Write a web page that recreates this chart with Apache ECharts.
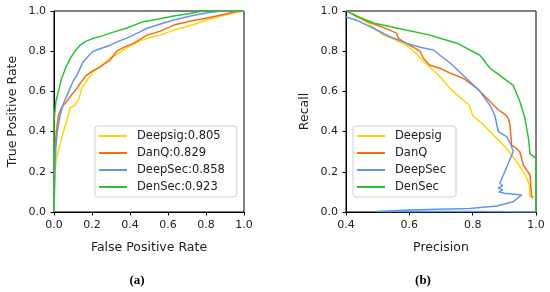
<!DOCTYPE html>
<html>
<head>
<meta charset="utf-8">
<script src="https://cdn.jsdelivr.net/npm/echarts@6/dist/echarts.min.js"></script>
<style>
  html, body { margin: 0; padding: 0; background: #fff; }
  #chart { width: 550px; height: 292px; }
</style>
</head>
<body>
<div id="chart"></div>
<script>
// ROC curves (a)
const rocNames = ['Deepsig:0.805', 'DanQ:0.829', 'DeepSec:0.858', 'DenSec:0.923']
const deepsigFpr = [0, 0.005, 0.014, 0.03, 0.05, 0.07, 0.085, 0.11, 0.13, 0.146, 0.17, 0.207, 0.25, 0.295, 0.34, 0.38, 0.45, 0.49, 0.56, 0.63, 0.73, 0.8, 0.9, 0.97, 1.0]
const deepsigTpr = [0, 0.2, 0.27, 0.33, 0.4, 0.46, 0.52, 0.53, 0.56, 0.615, 0.65, 0.7, 0.73, 0.765, 0.79, 0.815, 0.85, 0.864, 0.88, 0.905, 0.93, 0.955, 0.98, 0.995, 1.0]
const danqFpr = [0, 0.005, 0.012, 0.023, 0.04, 0.067, 0.09, 0.12, 0.145, 0.17, 0.2, 0.24, 0.27, 0.295, 0.33, 0.37, 0.42, 0.49, 0.56, 0.63, 0.72, 0.8, 0.88, 0.96, 1.0]
const danqTpr = [0, 0.3, 0.4, 0.48, 0.52, 0.55, 0.58, 0.615, 0.65, 0.68, 0.7, 0.72, 0.74, 0.756, 0.8, 0.82, 0.84, 0.88, 0.9, 0.93, 0.95, 0.964, 0.98, 0.997, 1.0]
const deepsecFpr = [0, 0.004, 0.01, 0.017, 0.032, 0.05, 0.084, 0.1, 0.12, 0.154, 0.18, 0.207, 0.25, 0.295, 0.34, 0.38, 0.45, 0.49, 0.56, 0.63, 0.72, 0.8, 0.88, 1.0]
const deepsecTpr = [0, 0.2, 0.32, 0.4, 0.48, 0.54, 0.615, 0.65, 0.68, 0.748, 0.775, 0.8, 0.815, 0.83, 0.85, 0.864, 0.895, 0.914, 0.935, 0.955, 0.975, 0.99, 1.0, 1.0]
const densecFpr = [0, 0, 0.005, 0.01, 0.023, 0.04, 0.067, 0.09, 0.11, 0.137, 0.17, 0.207, 0.25, 0.295, 0.38, 0.47, 0.55, 0.63, 0.7, 0.77, 0.84, 1.0]
const densecTpr = [0, 0.45, 0.5, 0.55, 0.6, 0.665, 0.73, 0.77, 0.8, 0.83, 0.85, 0.864, 0.875, 0.89, 0.914, 0.947, 0.96, 0.975, 0.985, 0.997, 1.0, 1.0]

// PR curves (b)
const prNames = ['Deepsig', 'DanQ', 'DeepSec', 'DenSec']
const deepsigPrec = [0.42, 0.47, 0.518, 0.55, 0.59, 0.62, 0.644, 0.686, 0.697, 0.728, 0.76, 0.79, 0.8, 0.83, 0.855, 0.88, 0.907, 0.939, 0.955, 0.971, 0.98, 0.98, 0.995]
const deepsigRec = [0.99, 0.94, 0.88, 0.86, 0.83, 0.79, 0.75, 0.69, 0.673, 0.615, 0.57, 0.53, 0.48, 0.44, 0.4, 0.36, 0.317, 0.25, 0.21, 0.168, 0.13, 0.08, 0.075]
const danqPrec = [0.423, 0.48, 0.539, 0.56, 0.565, 0.6, 0.634, 0.644, 0.665, 0.697, 0.73, 0.77, 0.81, 0.855, 0.88, 0.907, 0.914, 0.918, 0.923, 0.935, 0.949, 0.96, 0.981, 0.986, 0.99]
const danqRec = [0.98, 0.94, 0.905, 0.889, 0.864, 0.83, 0.8, 0.765, 0.73, 0.715, 0.69, 0.665, 0.62, 0.55, 0.51, 0.48, 0.46, 0.43, 0.333, 0.32, 0.3, 0.234, 0.184, 0.076, 0.07]
const deepsecPrec = [0.4, 0.44, 0.486, 0.539, 0.59, 0.634, 0.676, 0.697, 0.73, 0.77, 0.823, 0.855, 0.87, 0.881, 0.907, 0.92, 0.928, 0.886, 0.895, 0.88, 0.895, 0.883, 0.9, 0.955, 0.928, 0.876, 0.79, 0.597, 0.497, 0.83, 1.0]
const deepsecRec = [0.97, 0.95, 0.914, 0.872, 0.84, 0.82, 0.806, 0.78, 0.74, 0.68, 0.6, 0.53, 0.48, 0.4, 0.375, 0.34, 0.3, 0.143, 0.13, 0.12, 0.11, 0.1, 0.093, 0.085, 0.051, 0.03, 0.018, 0.01, 0.003, 0.002, 0.0]
const densecPrec = [0.4, 0.44, 0.486, 0.59, 0.665, 0.697, 0.75, 0.823, 0.855, 0.886, 0.928, 0.949, 0.965, 0.976, 0.981, 1.0, 1.0]
const densecRec = [1.0, 0.97, 0.94, 0.905, 0.88, 0.864, 0.84, 0.78, 0.715, 0.68, 0.63, 0.55, 0.466, 0.367, 0.29, 0.267, 0.0]

const colors = ['#ffd700', '#f96a12', '#6495ed', '#2bc42b']
const fontFamily = 'DejaVu Sans'
const textColor = '#222'

const zip = (xs, ys) => xs.map((x, i) => [x, ys[i]])
const rocData = [zip(deepsigFpr, deepsigTpr), zip(danqFpr, danqTpr), zip(deepsecFpr, deepsecTpr), zip(densecFpr, densecTpr)]
const prData = [zip(deepsigPrec, deepsigRec), zip(danqPrec, danqRec), zip(deepsecPrec, deepsecRec), zip(densecPrec, densecRec)]

const axisCommon = {
  type: 'value',
  interval: 0.2,
  nameLocation: 'middle',
  nameTextStyle: { fontFamily, fontSize: 12.5, color: textColor },
  axisLine: { show: true, lineStyle: { color: '#000', width: 1 } },
  axisTick: { show: true, length: 3.5, lineStyle: { color: '#000' } },
  axisLabel: { fontFamily, fontSize: 11, color: textColor, margin: 8, formatter: v => v.toFixed(1) },
  splitLine: { show: false }
}

const legendCommon = {
  orient: 'vertical',
  icon: 'rect',
  itemWidth: 28,
  itemHeight: 2,
  itemGap: 5,
  backgroundColor: '#fff',
  borderColor: '#d0d0d0',
  borderWidth: 1,
  borderRadius: 3,
  textStyle: { fontFamily, fontSize: 11.5, color: textColor, padding: [0, 0, 0, 5] }
}

const makeSeries = (names, data, idx) => names.map((name, i) => ({
  name,
  type: 'line',
  xAxisIndex: idx,
  yAxisIndex: idx,
  data: data[i],
  showSymbol: false,
  animation: false,
  lineStyle: { color: colors[i], width: 1.5 },
  itemStyle: { color: colors[i] }
}))

const chart = echarts.init(document.getElementById('chart'))
chart.setOption({
  animation: false,
  title: [
    { text: '(a)', left: 132, top: 269, textAlign: 'center',
      textStyle: { fontFamily: 'Liberation Serif', fontSize: 13, fontWeight: 'bold', color: '#000' } },
    { text: '(b)', left: 418, top: 269, textAlign: 'center',
      textStyle: { fontFamily: 'Liberation Serif', fontSize: 13, fontWeight: 'bold', color: '#000' } }
  ],
  grid: [
    { left: 54, top: 11, width: 190, height: 201, show: true, borderColor: '#000', borderWidth: 1 },
    { left: 346, top: 11, width: 190, height: 201, show: true, borderColor: '#000', borderWidth: 1 }
  ],
  xAxis: [
    { ...axisCommon, gridIndex: 0, min: 0, max: 1, name: 'False Positive Rate', nameGap: 29 },
    { ...axisCommon, gridIndex: 1, min: 0.4, max: 1, name: 'Precision', nameGap: 29 }
  ],
  yAxis: [
    { ...axisCommon, gridIndex: 0, min: 0, max: 1, name: 'True Positive Rate', nameGap: 35 },
    { ...axisCommon, gridIndex: 1, min: 0, max: 1, name: 'Recall', nameGap: 35 }
  ],
  legend: [
    { ...legendCommon, data: rocNames, left: 95, top: 126, padding: [4, 12, 4, 4] },
    { ...legendCommon, data: prNames, left: 353, top: 126, padding: [4, 10, 4, 4] }
  ],
  series: [...makeSeries(rocNames, rocData, 0), ...makeSeries(prNames, prData, 1)]
})
</script>
</body>
</html>
